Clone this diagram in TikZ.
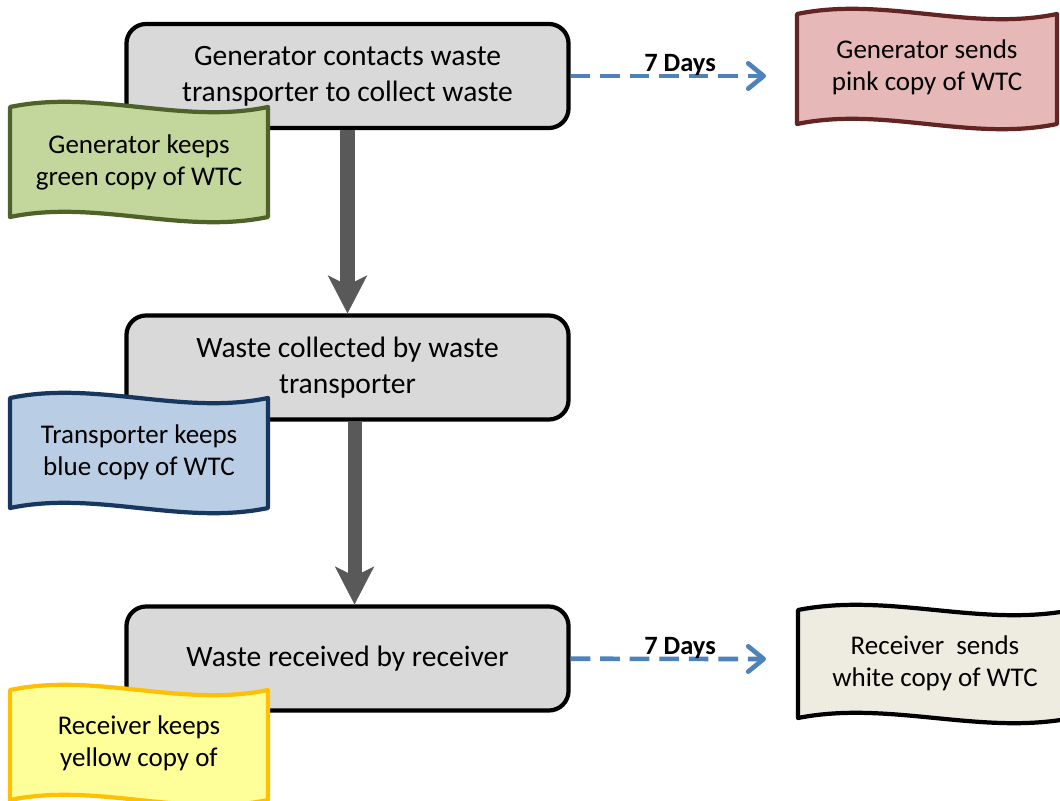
\documentclass[tikz,border=0pt]{standalone}
\usepackage{fontspec}
\setmainfont{Carlito}
\usetikzlibrary{arrows.meta}

\definecolor{boxgray}{HTML}{D9D9D9}
\definecolor{flowgray}{HTML}{595959}
\definecolor{daysblue}{HTML}{4F81BD}
\definecolor{greenfill}{HTML}{C3D69B}
\definecolor{greenline}{HTML}{4F6228}
\definecolor{bluefill}{HTML}{B9CDE5}
\definecolor{blueline}{HTML}{17375E}
\definecolor{yellowfill}{HTML}{FFFF99}
\definecolor{yellowline}{HTML}{FFC000}
\definecolor{pinkfill}{HTML}{E6B9B8}
\definecolor{pinkline}{HTML}{632523}
\definecolor{whitefill}{HTML}{EEECE1}

\tikzset{
  stepbox/.style={rectangle, rounded corners=14pt, draw=black, line width=3pt,
    fill=boxgray, minimum width=11.05cm, minimum height=2.6cm, align=center,
    font=\fontsize{21}{25.6}\selectfont},
  flow/.style={draw=flowgray, line width=10pt,
    -{Stealth[length=27pt, width=28pt, inset=7pt, line width=0.4pt]}},
  days/.style={draw=daysblue, line width=3.3pt, dash pattern=on 14pt off 7pt,
    -{Straight Barb[length=11pt, width=18pt, round]}},
  dayslabel/.style={font=\fontsize{18.8}{21}\selectfont\bfseries, anchor=base,
    inner sep=0pt, yshift=3pt},
  wave/.style={line width=3pt, line join=round},
  wavetext/.style={align=center, inner sep=0pt, font=\fontsize{19.2}{22.8}\selectfont},
}

% wavy paper shape, width and height in px
\newcommand{\wavepath}[2]{(0,0) .. controls (#1/3,-18) and (2*#1/3,18) .. (#1,0)
  -- (#1,#2) .. controls (2*#1/3,#2+18) and (#1/3,#2-18) .. (0,#2) -- cycle}

\begin{document}
\begin{tikzpicture}[x=0.025cm, y=-0.025cm]
\path[use as bounding box, clip] (0,0) rectangle (1060,801);

% main steps
\node[stepbox] (contact) at (347.5,76) {Generator contacts waste\\transporter to collect waste};
\node[stepbox] (collect) at (347.5,367.5) {Waste collected by waste\\transporter};
\node[stepbox] (receive) at (347.5,658.5) {Waste received by receiver};

\draw[flow] (contact) -- (collect);
\draw[flow] ([xshift=5pt]collect.south) -- ([xshift=5pt]receive.north);

% copies kept
\draw[wave, fill=greenfill, draw=greenline, shift={(10,107)}] \wavepath{258}{110};
\node[wavetext] (gkeep) at (139,162) {Generator keeps\\green copy of WTC};

\draw[wave, fill=bluefill, draw=blueline, shift={(10,398)}] \wavepath{258}{110};
\node[wavetext] (tkeep) at (139,452) {Transporter keeps\\blue copy of WTC};

\draw[wave, fill=yellowfill, draw=yellowline, shift={(10,690)}] \wavepath{258}{110};
\node[wavetext] (rkeep) at (139,743) {Receiver keeps\\yellow copy of};

% copies sent
\draw[wave, fill=pinkfill, draw=pinkline, shift={(797,14)}] \wavepath{260}{110};
\node[wavetext] (gsend) at (927,67) {Generator sends\\pink copy of WTC};

\draw[wave, fill=whitefill, draw=black, shift={(798,610)}] \wavepath{274}{108};
\node[wavetext] (rsend) at (935,663) {Receiver\ \ sends\\white copy of WTC};

\coordinate (gsendin) at (766,76);
\coordinate (rsendin) at (766,659);
\draw[days] (contact) -- (gsendin) node[dayslabel, pos=0.56] {7 Days};
\draw[days] (receive) -- (rsendin) node[dayslabel, pos=0.56] {7 Days};
\end{tikzpicture}
\end{document}
